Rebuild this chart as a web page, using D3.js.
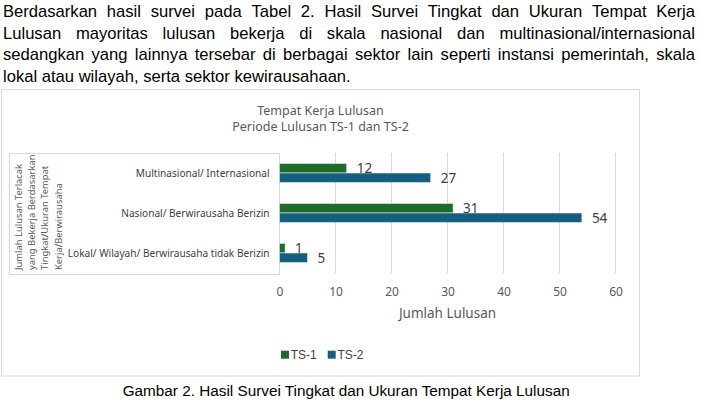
<!DOCTYPE html>
<html>
<head>
<meta charset="utf-8">
<script src="https://cdn.jsdelivr.net/npm/d3@7"></script>
<style>
  html, body { margin: 0; padding: 0; background: #fff; }
  svg { display: block; }
</style>
</head>
<body>
<div id="chart"></div>
<script>
// --- data ---
const paragraphLines = [
  "Berdasarkan hasil survei pada Tabel 2. Hasil Survei Tingkat dan Ukuran Tempat Kerja",
  "Lulusan mayoritas lulusan bekerja di skala nasional dan multinasional/internasional",
  "sedangkan yang lainnya tersebar di berbagai sektor lain seperti instansi pemerintah, skala",
  "lokal atau wilayah, serta sektor kewirausahaan."
];
const titleLines = ["Tempat Kerja Lulusan", "Periode Lulusan TS-1 dan TS-2"];
const categories = [
  "Multinasional/ Internasional",
  "Nasional/ Berwirausaha Berizin",
  "Lokal/ Wilayah/ Berwirausaha tidak Berizin"
];
const seriesNames = ["TS-1", "TS-2"];
const ts1Values = [12, 31, 1];
const ts2Values = [27, 54, 5];
const xTicks = [0, 10, 20, 30, 40, 50, 60];
const xTitle = "Jumlah Lulusan";
const yTitleLines = [
  "Jumlah Lulusan Terlacak",
  "yang Bekerja Berdasarkan",
  "Tingkat/Ukuran Tempat",
  "Kerja/Berwirausaha"
];
const caption = "Gambar 2. Hasil Survei Tingkat dan Ukuran Tempat Kerja Lulusan";

const width = 701, height = 408;
const chartFont = "'Noto Sans', sans-serif";
const docFont = "'Liberation Sans', Arial, sans-serif";
const colors = { "TS-1": "#1f6b2a", "TS-2": "#165e80" };

const svg = d3.select("#chart").append("svg")
  .attr("width", width)
  .attr("height", height)
  .attr("viewBox", `0 0 ${width} ${height}`);

svg.append("rect").attr("width", width).attr("height", height).attr("fill", "#fff");

// justified paragraph, word by word
const para = svg.append("g").attr("font-family", docFont).attr("font-size", 16.6).attr("fill", "#000");
const paraLeft = 3, paraRight = 695;
paragraphLines.forEach((line, i) => {
  const words = line.split(" ");
  const baseline = 16.9 + i * 21.7;
  const nodes = words.map(w => para.append("text").attr("y", baseline).text(w));
  const widths = nodes.map(n => n.node().getComputedTextLength());
  const last = i === paragraphLines.length - 1;
  const space = 4.6;
  const gap = last ? space
    : (paraRight - paraLeft - d3.sum(widths)) / (words.length - 1);
  let cx = paraLeft;
  nodes.forEach((n, j) => { n.attr("x", cx); cx += widths[j] + gap; });
});

// chart frame
svg.append("rect")
  .attr("x", 1.5).attr("y", 89.5)
  .attr("width", 638).attr("height", 286.5)
  .attr("fill", "#fff")
  .attr("stroke", "#d9d9d9");

const chart = svg.append("g").attr("font-family", chartFont);

// title
chart.append("g").selectAll("text")
  .data(titleLines)
  .join("text")
  .attr("x", 320.5)
  .attr("y", (d, i) => 110.7 + i * 16)
  .attr("text-anchor", "middle")
  .attr("dominant-baseline", "central")
  .attr("font-size", 12.5)
  .attr("fill", "#595959")
  .text(d => d);

const x = d3.scaleLinear().domain([0, 60]).range([279.5, 615.5]);
const y = d3.scaleBand().domain(categories).range([153, 273])
  .paddingInner(0.525).paddingOuter(0.2625);
const ySub = d3.scaleBand().domain(seriesNames).range([0, y.bandwidth()]);

// box around category labels and y title
chart.append("rect")
  .attr("x", 9.5).attr("y", 153.5)
  .attr("width", 270).attr("height", 121)
  .attr("fill", "none")
  .attr("stroke", "#d9d9d9");

// gridlines
chart.append("g").selectAll("line")
  .data(xTicks)
  .join("line")
  .attr("x1", d => x(d)).attr("x2", d => x(d))
  .attr("y1", 153).attr("y2", 273)
  .attr("stroke", "#d9d9d9")
  .attr("stroke-width", 1);

// x axis labels
const xAxis = d3.axisBottom(x).tickValues(xTicks).tickSize(0).tickPadding(0);
const xg = chart.append("g").attr("transform", "translate(0,291.7)").call(xAxis);
xg.select(".domain").remove();
xg.selectAll("text")
  .attr("dy", null)
  .attr("y", 0)
  .attr("dominant-baseline", "central")
  .attr("font-family", chartFont)
  .attr("font-size", 12)
  .attr("fill", "#595959");

chart.append("text")
  .attr("x", (x(0) + x(60)) / 2)
  .attr("y", 313)
  .attr("text-anchor", "middle")
  .attr("dominant-baseline", "central")
  .attr("font-size", 13.5)
  .attr("fill", "#595959")
  .text(xTitle);

// y title, rotated, clipped to the label box
svg.append("clipPath").attr("id", "ybox")
  .append("rect").attr("x", 10).attr("y", 154).attr("width", 269).attr("height", 120);
chart.append("g").attr("clip-path", "url(#ybox)")
  .selectAll("text")
  .data(yTitleLines)
  .join("text")
  .attr("transform", (d, i) => `translate(${18.7 + i * 13.1},270) rotate(-90)`)
  .attr("dominant-baseline", "central")
  .attr("font-size", 9.4)
  .attr("fill", "#595959")
  .text(d => d);

// category labels
chart.append("g").selectAll("text")
  .data(categories)
  .join("text")
  .attr("x", 269.5)
  .attr("y", d => y(d) + y.bandwidth() / 2)
  .attr("text-anchor", "end")
  .attr("dominant-baseline", "central")
  .attr("font-size", 10.1)
  .attr("fill", "#404040")
  .text(d => d);

// bars
const rows = categories.map((c, i) => ({
  category: c,
  values: [
    { series: "TS-1", value: ts1Values[i] },
    { series: "TS-2", value: ts2Values[i] }
  ]
}));

const groups = chart.append("g").selectAll("g")
  .data(rows)
  .join("g")
  .attr("transform", d => `translate(0,${y(d.category)})`);

groups.selectAll("rect")
  .data(d => d.values)
  .join("rect")
  .attr("x", x(0))
  .attr("y", d => ySub(d.series))
  .attr("width", d => x(d.value) - x(0))
  .attr("height", ySub.bandwidth())
  .attr("fill", d => colors[d.series])
  .attr("stroke", "#e4e9ee")
  .attr("stroke-width", 0.6);

groups.selectAll("text")
  .data(d => d.values)
  .join("text")
  .attr("x", d => x(d.value) + 10)
  .attr("y", d => ySub(d.series) + ySub.bandwidth() / 2)
  .attr("dominant-baseline", "central")
  .attr("font-size", 13.5)
  .attr("fill", "#404040")
  .text(d => d.value);

// legend
const legend = svg.append("g").attr("font-family", docFont).attr("font-size", 12);
let lx = 281;
seriesNames.forEach(name => {
  legend.append("rect")
    .attr("x", lx).attr("y", 350.7)
    .attr("width", 8).attr("height", 8)
    .attr("fill", colors[name]);
  const t = legend.append("text")
    .attr("x", lx + 9.7).attr("y", 358.9)
    .attr("fill", "#404040")
    .text(name);
  lx += 9.7 + t.node().getComputedTextLength() + 11;
});

// caption
svg.append("text")
  .attr("x", 122.7)
  .attr("y", 396)
  .attr("font-family", docFont)
  .attr("font-size", 15.3)
  .attr("fill", "#000")
  .text(caption);
</script>
</body>
</html>
